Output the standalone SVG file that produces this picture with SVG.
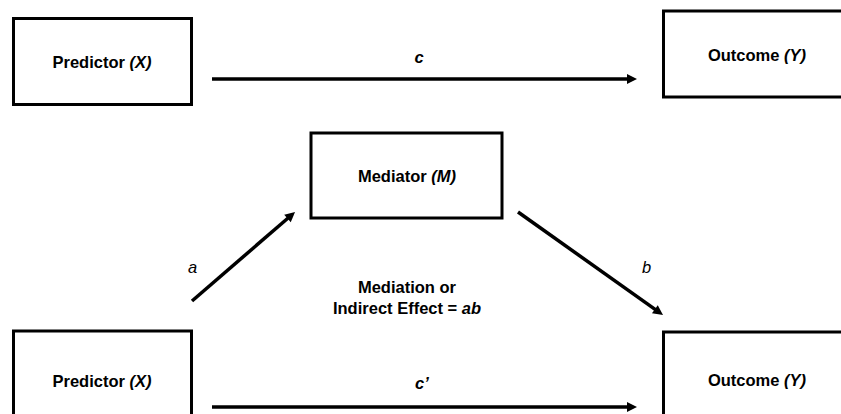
<svg xmlns="http://www.w3.org/2000/svg" width="841" height="414" viewBox="0 0 841 414">
  <style>
    .box { fill: #ffffff; stroke: #000000; stroke-width: 3; }
    .lbl { font-family: "Liberation Sans", Arial, sans-serif; font-size: 16.5px; font-weight: bold; text-anchor: middle; fill: #000000; }
    .path { font-family: "Liberation Sans", Arial, sans-serif; font-size: 16.5px; font-style: italic; fill: #000000; }
    .edge { stroke: #000000; stroke-width: 3.5; fill: none; marker-end: url(#head); }
    .it { font-style: italic; }
  </style>
  <defs>
    <marker id="head" markerUnits="userSpaceOnUse" markerWidth="12" markerHeight="12" refX="2" refY="5" orient="auto" overflow="visible">
      <path d="M0,0 L10,5 L0,10 z" fill="#000000"/>
    </marker>
  </defs>

  <rect width="841" height="414" fill="#ffffff"/>

  <!-- Total effect model -->
  <g id="predictor-top">
    <rect class="box" x="13.5" y="18.5" width="178" height="86"/>
    <text class="lbl" x="102" y="68">Predictor <tspan class="it">(X)</tspan></text>
  </g>
  <g id="outcome-top">
    <rect class="box" x="663.5" y="11" width="200" height="86"/>
    <text class="lbl" x="757" y="61">Outcome <tspan class="it">(Y)</tspan></text>
  </g>

  <!-- Mediation model -->
  <g id="mediator">
    <rect class="box" x="311" y="133" width="191" height="85"/>
    <text class="lbl" x="407" y="182">Mediator <tspan class="it">(M)</tspan></text>
  </g>
  <g id="predictor-bottom">
    <rect class="box" x="13.5" y="331" width="178" height="100"/>
    <text class="lbl" x="102" y="387">Predictor <tspan class="it">(X)</tspan></text>
  </g>
  <g id="outcome-bottom">
    <rect class="box" x="663.5" y="332" width="200" height="100"/>
    <text class="lbl" x="757" y="386">Outcome <tspan class="it">(Y)</tspan></text>
  </g>

  <g id="connectors">
    <line class="edge" x1="212" y1="79" x2="629" y2="79"/>
    <line class="edge" x1="192" y1="301" x2="289" y2="217.2"/>
    <line class="edge" x1="518" y1="212" x2="656.5" y2="310.4"/>
    <line class="edge" x1="212" y1="407" x2="629" y2="407"/>
  </g>

  <!-- Path labels -->
  <g id="labels">
    <text class="lbl it" x="419" y="63">c</text>
    <text class="path" x="188" y="273">a</text>
    <text class="path" x="642" y="273">b</text>
    <text class="lbl it" x="422" y="389">c’</text>
    <text class="lbl" x="407" y="293">Mediation or</text>
    <text class="lbl" x="407" y="314">Indirect Effect = <tspan class="it">ab</tspan></text>
  </g>
</svg>
